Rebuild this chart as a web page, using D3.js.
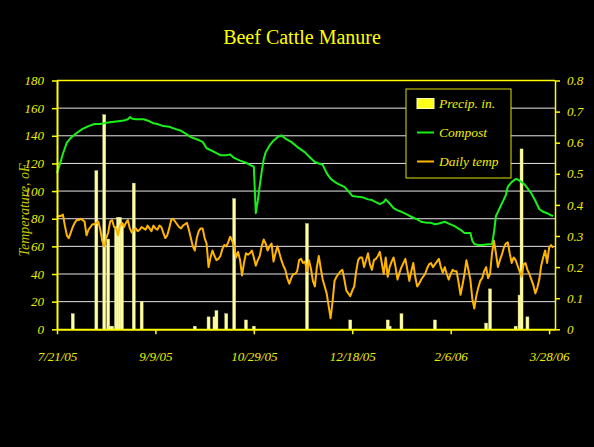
<!DOCTYPE html>
<html>
<head>
<meta charset="utf-8">
<script src="https://cdn.jsdelivr.net/npm/d3@7"></script>
<style>
  html, body { margin: 0; padding: 0; background: #000; }
  svg { display: block; }
  text { font-family: "Liberation Serif", "DejaVu Serif", serif; }
</style>
</head>
<body>
<svg id="chart" width="594" height="447"></svg>
<script>
// Beef cattle manure compost trial, 7/21/05 – 3/31/06
const startDate = "7/21/05";
const endDate = "3/31/06";
const xTickLabels = ["7/21/05", "9/9/05", "10/29/05", "12/18/05", "2/6/06", "3/28/06"];
const leftTicks = [0, 20, 40, 60, 80, 100, 120, 140, 160, 180];
const rightTicks = [0, 0.1, 0.2, 0.3, 0.4, 0.5, 0.6, 0.7, 0.8];

// Daily air temperature (°F), one value per day starting at startDate
const dailyTempF = [
  81, 82, 82, 83, 75, 68, 66, 70, 74, 77,
  79, 79, 80, 79, 78, 68, 72, 74, 76, 76,
  77, 78, 72, 64, 60, 66, 70, 78, 79, 74,
  73, 68, 75, 77, 74, 77, 79, 73, 70, 72,
  73, 71, 72, 74, 73, 72, 75, 73, 71, 75,
  73, 72, 75, 74, 70, 66, 68, 73, 79, 80,
  78, 76, 74, 73, 75, 76, 77, 72, 66, 60,
  57, 66, 71, 73, 73, 66, 62, 45, 52, 57,
  53, 50, 51, 53, 58, 61, 60, 63, 67, 64,
  60, 52, 56, 50, 39, 48, 55, 54, 55, 57,
  52, 46, 50, 53, 60, 65, 62, 57, 60, 62,
  49, 55, 60, 55, 50, 46, 43, 37, 33, 37,
  40, 40, 42, 50, 51, 48, 49, 42, 50, 44,
  35, 31, 45, 53, 44, 36, 31, 26, 17, 8,
  20, 35, 38, 40, 42, 43, 36, 28, 26, 24,
  28, 31, 42, 50, 52, 52, 45, 50, 55, 47,
  43, 50, 51, 53, 56, 48, 40, 52, 38, 45,
  49, 52, 45, 36, 41, 45, 48, 51, 43, 35,
  42, 48, 38, 31, 33, 36, 38, 40, 44, 47,
  48, 45, 47, 49, 51, 45, 41, 45, 40, 36,
  40, 43, 42, 42, 34, 25, 32, 40, 50, 43,
  36, 22, 15, 24, 30, 35, 37, 42, 45, 37,
  40, 55, 64, 55, 45, 50, 54, 59, 62, 63,
  55, 48, 52, 50, 46, 42, 38, 47, 48, 43,
  40, 36, 32, 26, 30, 36, 46, 52, 57, 48,
  59, 61, 59
];

// Compost pile temperature (°F): day offset from startDate and reading
const compostDay = [
  0, 2, 3, 5, 7, 10, 13, 16, 19, 22, 25, 28, 31, 34, 36, 37, 38, 40, 44, 47,
  49, 51, 54, 57, 60, 63, 66, 68, 71, 74, 76, 79, 81, 83, 86, 88, 90, 93, 96, 98,
  100, 101, 102, 103, 104, 105, 106, 108, 110, 112, 114, 116, 119, 122, 124, 126, 128, 131, 133, 135,
  137, 139, 141, 143, 146, 148, 150, 152, 155, 158, 160, 162, 164, 166, 167, 169, 171, 173, 175, 178,
  180, 183, 185, 188, 190, 192, 194, 197, 199, 202, 205, 207, 210, 211, 212, 214, 216, 219, 221, 222,
  223, 224, 226, 228, 229, 231, 233, 234, 236, 238, 241, 243, 245, 247, 249, 251, 252
];
const compostF = [
  113, 122, 127, 135, 138.5, 142, 145, 147, 148.5, 148.5, 149.5, 150, 150.5, 151, 152, 153.5, 152.5, 152, 152, 150.5,
  149, 148.5, 147, 146.5, 145, 143.6, 141, 139, 137.5, 135.6, 131, 129, 127.5, 126, 126, 126.5, 124, 122, 120.5, 119,
  117.6, 84, 93, 104, 114, 123, 128, 133, 136.5, 139, 140.3, 138, 135.6, 132, 130, 128, 125, 121, 120, 119,
  113, 109, 106.7, 105, 103, 100, 96.5, 96, 95.6, 94, 93.5, 92, 90.6, 92, 94, 91, 87.7, 86, 85, 83,
  81.4, 79.5, 77.8, 77, 77, 76, 76.5, 77.8, 76.5, 74.7, 72, 69.6, 69.6, 64, 61.7, 61, 61, 61.5, 61.7, 70,
  82, 85, 91, 97, 103, 106.5, 108.7, 108.5, 106.5, 104, 98.3, 93, 87, 85, 84, 82.5, 82
];

// Precipitation (inches): day offset from startDate and amount
const precipDay = [8, 20, 24, 26, 27, 28, 30, 31, 32, 33, 39, 43, 70, 77, 80, 81, 86, 90, 96, 100,
  127, 149, 168, 169, 175, 192, 218, 220, 233, 235, 236, 239];
const precipIn = [0.05, 0.51, 0.69, 0.29, 0.01, 0.01, 0.33, 0.36, 0.36, 0.34, 0.47, 0.09, 0.01, 0.04, 0.04, 0.06, 0.05, 0.42, 0.03, 0.01,
  0.34, 0.03, 0.03, 0.01, 0.05, 0.03, 0.02, 0.13, 0.01, 0.11, 0.58, 0.04];

const seriesNames = ["Precip. in.", "Compost", "Daily temp"];
const chartTitle = "Beef Cattle Manure";
const yTitle = "Temperature, oF";

const YELLOW = "#ffff00";
const TEXT = "#eeee00";
const GREEN = "#19f019";
const ORANGE = "#ffb400";
const BAR = "#ffffa0";

const parse = d3.timeParse("%m/%d/%y");
const t0 = parse(startDate);
const dayToDate = d => d3.timeDay.offset(t0, d);

const plot = { left: 57, right: 555, top: 80.5, bottom: 329.3 };

const x = d3.scaleTime().domain([t0, parse(endDate)]).range([plot.left, plot.right]);
const yL = d3.scaleLinear().domain([0, 180]).range([plot.bottom, plot.top]);
const yR = d3.scaleLinear().domain([0, 0.8]).range([plot.bottom, plot.top]);

const svg = d3.select("#chart");
svg.append("rect").attr("width", 594).attr("height", 447).attr("fill", "#000");

// Title
svg.append("text").attr("x", 302).attr("y", 44)
  .attr("text-anchor", "middle").attr("fill", YELLOW)
  .attr("font-size", 20).text(chartTitle);

// Gridlines
svg.append("g").selectAll("line").data(leftTicks.filter(v => v > 0 && v < 180)).join("line")
  .attr("x1", plot.left).attr("x2", plot.right)
  .attr("y1", d => yL(d)).attr("y2", d => yL(d))
  .attr("stroke", "#e6e6e6").attr("stroke-width", 1);

// Precipitation columns (right axis)
const precip = precipDay.map((d, i) => ({ date: dayToDate(d), v: precipIn[i] }));
svg.append("g").selectAll("rect").data(precip).join("rect")
  .attr("x", d => x(d.date) - 1.5).attr("width", 3)
  .attr("y", d => yR(d.v)).attr("height", d => yR(0) - yR(d.v))
  .attr("fill", BAR).attr("stroke", "#d8d890").attr("stroke-width", 0.4);

// Lines
const compost = compostDay.map((d, i) => ({ date: dayToDate(d), v: compostF[i] }));
const daily = dailyTempF.map((v, i) => ({ date: dayToDate(i), v }));
const line = d3.line().x(d => x(d.date)).y(d => yL(d.v));

svg.append("path").datum(compost).attr("d", line)
  .attr("fill", "none").attr("stroke", GREEN).attr("stroke-width", 2).attr("stroke-linejoin", "round");
svg.append("path").datum(daily).attr("d", line)
  .attr("fill", "none").attr("stroke", ORANGE).attr("stroke-width", 2).attr("stroke-linejoin", "round");

// Frame top
svg.append("line").attr("x1", plot.left).attr("x2", plot.right)
  .attr("y1", plot.top).attr("y2", plot.top).attr("stroke", YELLOW).attr("stroke-width", 1.5);

// Axes
const styleAxis = (g, width) => {
  g.select(".domain").attr("stroke", YELLOW).attr("stroke-width", width);
  g.selectAll(".tick line").attr("stroke", YELLOW).attr("stroke-width", 1.5);
  g.selectAll(".tick text").attr("fill", TEXT).attr("font-size", 13)
    .attr("font-style", "italic").attr("font-family", "Liberation Serif, serif");
};

const leftAxis = d3.axisLeft(yL).tickValues(leftTicks).tickSize(5).tickSizeOuter(0).tickPadding(8);
svg.append("g").attr("transform", `translate(${plot.left},0)`).call(leftAxis)
  .call(g => styleAxis(g, 2));

const rightAxis = d3.axisRight(yR).tickValues(rightTicks).tickSize(5).tickSizeOuter(0).tickPadding(7)
  .tickFormat(d => d === 0 ? "0" : d3.format(".1f")(d));
svg.append("g").attr("transform", `translate(${plot.right},0)`).call(rightAxis)
  .call(g => styleAxis(g, 1.5));

const bottomAxis = d3.axisBottom(x).tickValues(xTickLabels.map(parse)).tickSize(5).tickSizeOuter(0)
  .tickPadding(17).tickFormat((d, i) => xTickLabels[i]);
svg.append("g").attr("transform", `translate(0,${plot.bottom})`).call(bottomAxis)
  .call(g => styleAxis(g, 2));

// Y axis title
svg.append("text").attr("transform", "translate(29,210) rotate(-90)")
  .attr("text-anchor", "middle").attr("fill", "#c8c800")
  .attr("font-size", 14).attr("font-style", "italic").text(yTitle);

// Legend
const lg = svg.append("g").attr("transform", "translate(406,89)");
lg.append("rect").attr("width", 105).attr("height", 89)
  .attr("fill", "#000").attr("stroke", "#e0e000").attr("stroke-width", 1);
lg.append("rect").attr("x", 11).attr("y", 9.5).attr("width", 17).attr("height", 10)
  .attr("fill", "#ffff1a").attr("stroke", "#ffffb0").attr("stroke-width", 1);
lg.append("line").attr("x1", 11).attr("x2", 28).attr("y1", 43.5).attr("y2", 43.5)
  .attr("stroke", GREEN).attr("stroke-width", 2);
lg.append("line").attr("x1", 11).attr("x2", 28).attr("y1", 72.5).attr("y2", 72.5)
  .attr("stroke", ORANGE).attr("stroke-width", 2);
lg.selectAll("text.item").data(seriesNames).join("text").attr("class", "item")
  .attr("x", 33).attr("y", (d, i) => 19 + i * 29)
  .attr("fill", TEXT).attr("font-size", 13.5).attr("font-style", "italic").text(d => d);
</script>
</body>
</html>
